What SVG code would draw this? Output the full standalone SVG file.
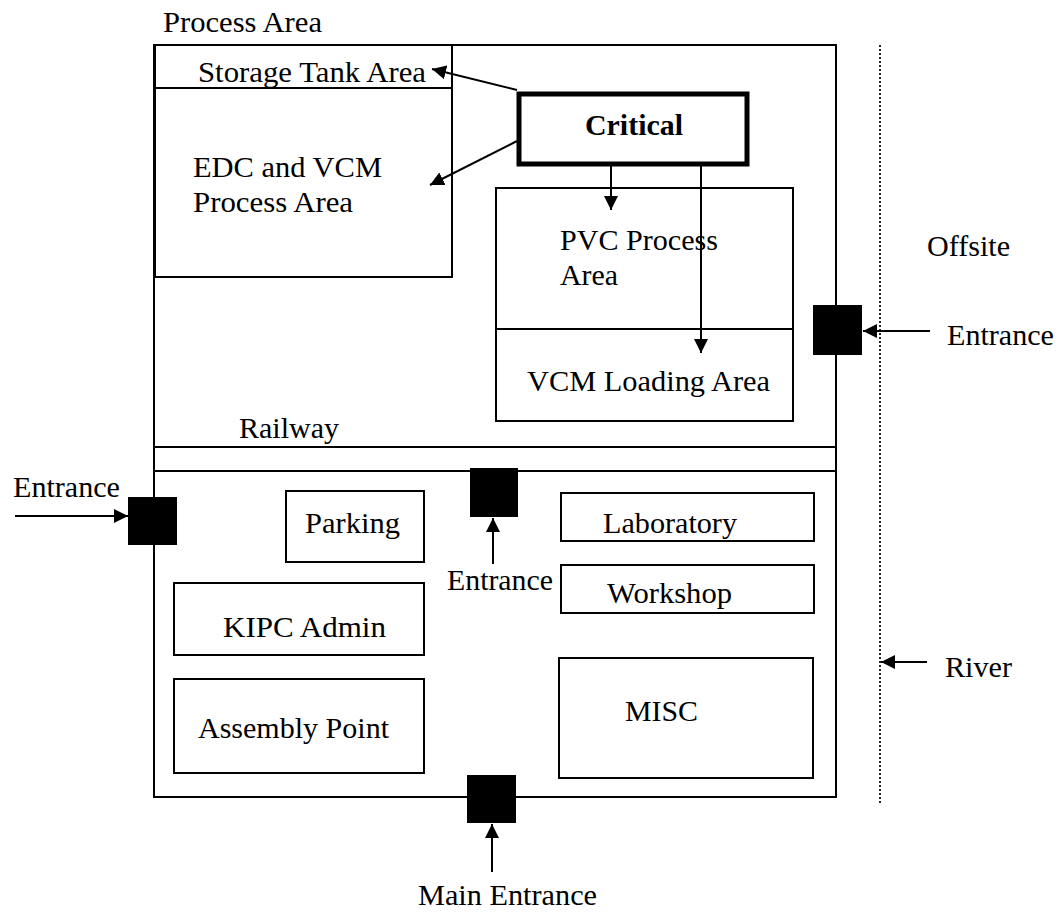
<svg xmlns="http://www.w3.org/2000/svg" width="1060" height="915" viewBox="0 0 1060 915">
<defs>
<marker id="ah" viewBox="0 0 10 10" refX="10" refY="5" markerWidth="14" markerHeight="14" markerUnits="userSpaceOnUse" orient="auto">
<path d="M0,0 L10,5 L0,10 z" fill="#000"/>
</marker>
</defs>
<style>
.b{font-weight:bold}
.box{fill:none;stroke:#000;stroke-width:2}
.thick{fill:none;stroke:#000;stroke-width:5}
.gate{fill:#000;stroke:none}
.con{fill:none;stroke:#000;stroke-width:2;marker-end:url(#ah)}
.dot{fill:none;stroke:#222;stroke-width:2;stroke-dasharray:2,2}
</style>
<rect width="1060" height="915" fill="#fff"/>
<g font-family="Liberation Serif, DejaVu Serif, serif" font-size="30" fill="#000">

<g id="process-area">
<rect class="box" x="154" y="45" width="682" height="752"/>
<text x="163" y="32" textLength="159" lengthAdjust="spacingAndGlyphs">Process Area</text>
</g>

<g id="railway">
<line class="box" x1="154" y1="447" x2="836" y2="447"/>
<line class="box" x1="154" y1="471" x2="836" y2="471"/>
<text x="239" y="438" textLength="100" lengthAdjust="spacingAndGlyphs">Railway</text>
</g>

<g id="storage-tank-area">
<rect class="box" x="155" y="45" width="297" height="43"/>
<text x="198" y="82" textLength="228" lengthAdjust="spacingAndGlyphs">Storage Tank Area</text>
</g>

<g id="edc-vcm">
<rect class="box" x="155" y="88" width="297" height="189"/>
<text x="193" y="177" textLength="189" lengthAdjust="spacingAndGlyphs">EDC and VCM</text>
<text x="193" y="212" textLength="160" lengthAdjust="spacingAndGlyphs">Process Area</text>
</g>

<g id="critical">
<rect class="thick" x="519" y="94" width="228" height="70"/>
<text class="b" x="585" y="135" textLength="98" lengthAdjust="spacingAndGlyphs">Critical</text>
</g>

<g id="pvc-process">
<rect class="box" x="496" y="188" width="297" height="141"/>
<text x="560" y="250" textLength="158" lengthAdjust="spacingAndGlyphs">PVC Process</text>
<text x="560" y="285" textLength="58" lengthAdjust="spacingAndGlyphs">Area</text>
</g>

<g id="vcm-loading">
<rect class="box" x="496" y="329" width="297" height="92"/>
<text x="527" y="391" textLength="243" lengthAdjust="spacingAndGlyphs">VCM Loading Area</text>
</g>

<g id="parking">
<rect class="box" x="286" y="491" width="138" height="71"/>
<text x="305" y="533" textLength="95" lengthAdjust="spacingAndGlyphs">Parking</text>
</g>

<g id="kipc-admin">
<rect class="box" x="174" y="583" width="250" height="72"/>
<text x="223" y="637" textLength="163" lengthAdjust="spacingAndGlyphs">KIPC Admin</text>
</g>

<g id="assembly-point">
<rect class="box" x="174" y="679" width="250" height="94"/>
<text x="198" y="738" textLength="191" lengthAdjust="spacingAndGlyphs">Assembly Point</text>
</g>

<g id="laboratory">
<rect class="box" x="561" y="493" width="253" height="48"/>
<text x="603" y="533" textLength="134" lengthAdjust="spacingAndGlyphs">Laboratory</text>
</g>

<g id="workshop">
<rect class="box" x="561" y="565" width="253" height="48"/>
<text x="607" y="603" textLength="125" lengthAdjust="spacingAndGlyphs">Workshop</text>
</g>

<g id="misc">
<rect class="box" x="559" y="658" width="254" height="120"/>
<text x="625" y="721" textLength="73" lengthAdjust="spacingAndGlyphs">MISC</text>
</g>

<g id="entrance-left">
<rect class="gate" x="128" y="497" width="49" height="48"/>
<text x="13" y="497" textLength="107" lengthAdjust="spacingAndGlyphs">Entrance</text>
</g>

<g id="entrance-middle">
<rect class="gate" x="470" y="468" width="48" height="49"/>
<text x="447" y="590" textLength="106" lengthAdjust="spacingAndGlyphs">Entrance</text>
</g>

<g id="entrance-right">
<rect class="gate" x="813" y="305" width="49" height="50"/>
<text x="947" y="345" textLength="107" lengthAdjust="spacingAndGlyphs">Entrance</text>
</g>

<g id="main-entrance">
<rect class="gate" x="467" y="775" width="49" height="48"/>
<text x="418" y="905" textLength="179" lengthAdjust="spacingAndGlyphs">Main Entrance</text>
</g>

<g id="offsite">
<text x="927" y="256" textLength="83" lengthAdjust="spacingAndGlyphs">Offsite</text>
</g>

<g id="river">
<line class="dot" x1="880" y1="45" x2="880" y2="803"/>
<text x="945" y="677" textLength="67" lengthAdjust="spacingAndGlyphs">River</text>
</g>

</g>
<g id="connectors">
<line class="con" x1="517" y1="90" x2="432" y2="69"/>
<line class="con" x1="517" y1="141" x2="430" y2="185"/>
<line class="con" x1="611" y1="166" x2="611" y2="210"/>
<line class="con" x1="701" y1="166" x2="701" y2="353"/>
<line class="con" x1="15" y1="516" x2="128" y2="516"/>
<line class="con" x1="493" y1="564" x2="493" y2="518"/>
<line class="con" x1="492" y1="872" x2="492" y2="824"/>
<line class="con" x1="930" y1="331" x2="863" y2="331"/>
<line class="con" x1="927" y1="662" x2="881" y2="662"/>
</g>
</svg>
